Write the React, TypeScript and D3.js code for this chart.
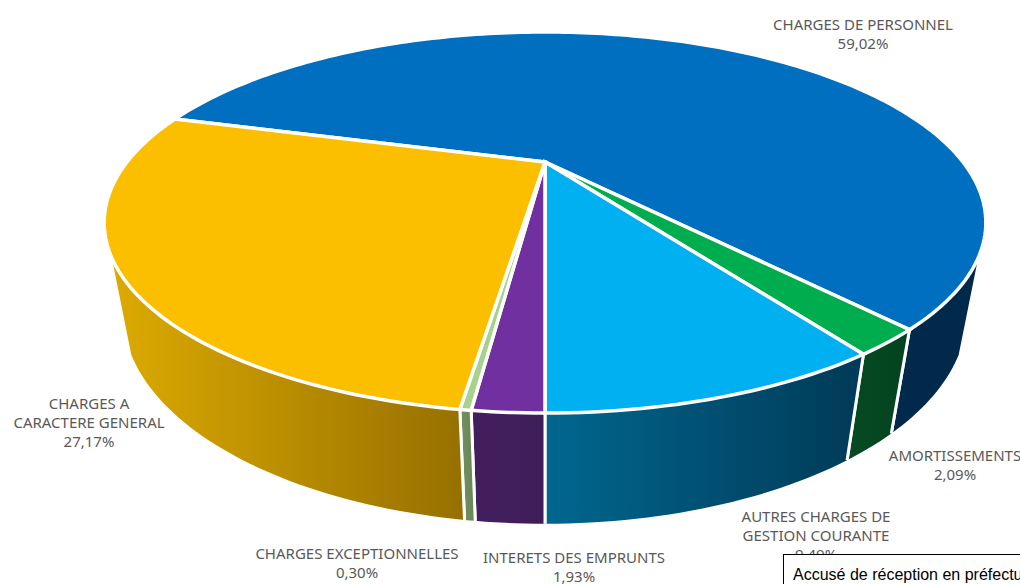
import React from "react";
import * as d3 from "d3";

const categories = [
  "CHARGES DE PERSONNEL",
  "AMORTISSEMENTS",
  "AUTRES CHARGES DE GESTION COURANTE",
  "INTERETS DES EMPRUNTS",
  "CHARGES EXCEPTIONNELLES",
  "CHARGES A CARACTERE GENERAL",
];
const values = [59.02, 2.09, 9.49, 1.93, 0.3, 27.17];
const valueLabels = ["59,02%", "2,09%", "9,49%", "1,93%", "0,30%", "27,17%"];
const topColors = ["#006fc0", "#00ad4e", "#00b0f0", "#7030a0", "#a9d18e", "#fbbf00"];
const wallFrom = ["#002a4c", "#054a22", "#00678f", "#441f60", "#72905f", "#dcaa00"];
const wallTo = ["#00284a", "#03431f", "#003a57", "#3e1d58", "#6a8558", "#967000"];
const labelLines = [
  ["CHARGES DE PERSONNEL", "59,02%"],
  ["AMORTISSEMENTS", "2,09%"],
  ["AUTRES CHARGES DE", "GESTION COURANTE", "9,49%"],
  ["INTERETS DES EMPRUNTS", "1,93%"],
  ["CHARGES EXCEPTIONNELLES", "0,30%"],
  ["CHARGES A", "CARACTERE GENERAL", "27,17%"],
];
const labelAnchors: [number, number][] = [
  [863, 30],
  [955, 461],
  [816, 522],
  [574, 563],
  [357, 559],
  [89, 409],
];

const W = 1020;
const H = 584;
const apexX = 545;
const apexY = 162;
const A = 418;
const B = 171.3;
const K = 0.3177;
const DEPTH_Y = 90;
const DEPTH_W = 0.04;
const START = (-74.16 * Math.PI) / 180;
const WALL_FROM = (118.4 * Math.PI) / 180;
const WALL_TO = (241.6 * Math.PI) / 180;

function project(angle: number, z: number): [number, number] {
  const x = Math.sin(angle);
  const y = -Math.cos(angle);
  const w = 1 - K * y + DEPTH_W * z;
  return [apexX + (A * x) / w, apexY + (B * y + DEPTH_Y * z) / w];
}

const pie = d3
  .pie<number>()
  .sort(null)
  .startAngle(START)
  .endAngle(START + 2 * Math.PI);

function ringPoints(a0: number, a1: number, z: number): [number, number][] {
  const n = Math.max(2, Math.ceil(Math.abs(a1 - a0) / 0.02));
  return d3.range(n + 1).map((i) => project(a0 + ((a1 - a0) * i) / n, z));
}

const line = d3.line();

export default function App() {
  const arcs = pie(values);
  const spans = arcs.map((a) => {
    const a0 = Math.max(a.startAngle, WALL_FROM);
    const a1 = Math.min(a.endAngle, WALL_TO);
    return [a0, a1] as [number, number];
  });
  return (
    <svg
      width={W}
      height={H}
      viewBox={`0 0 ${W} ${H}`}
      style={{ position: "fixed", left: 0, top: 0, background: "#fff", display: "block" }}
    >
      <defs>
        {spans.map(([a0, a1], i) => {
          const xs = [...ringPoints(a0, a1, 0), ...ringPoints(a0, a1, 1)].map((p) => p[0]);
          return (
            <linearGradient
              key={i}
              id={`wall${i}`}
              gradientUnits="userSpaceOnUse"
              x1={d3.min(xs)}
              x2={d3.max(xs)}
              y1={0}
              y2={0}
            >
              <stop offset="0" stopColor={wallFrom[i]} />
              <stop offset="1" stopColor={wallTo[i]} />
            </linearGradient>
          );
        })}
      </defs>
      {spans.map(([a0, a1], i) => {
        const top = ringPoints(a0, a1, 0);
        const bottom = ringPoints(a0, a1, 1).reverse();
        return (
          <g key={categories[i] + "w"}>
            <path d={line([...top, ...bottom])! + "Z"} fill={`url(#wall${i})`} />
            {a0 > WALL_FROM && (
              <path d={line([project(a0, 0), project(a0, 1)])!} stroke="#fff" strokeWidth={3} />
            )}
            {a1 < WALL_TO && (
              <path d={line([project(a1, 0), project(a1, 1)])!} stroke="#fff" strokeWidth={3} />
            )}
          </g>
        );
      })}
      {arcs.map((a, i) => {
        const rim = ringPoints(a.startAngle, a.endAngle, 0);
        return (
          <path
            key={categories[i]}
            d={line([[apexX, apexY], ...rim])! + "Z"}
            fill={topColors[i]}
            stroke="#fff"
            strokeWidth={3.5}
            strokeLinejoin="miter"
          />
        );
      })}
      <g
        fontFamily="'Noto Sans', sans-serif"
        fontSize={15}
        fill="#595959"
        textAnchor="middle"
      >
        {labelLines.map((ls, i) => (
          <text key={valueLabels[i]} x={labelAnchors[i][0]} y={labelAnchors[i][1]}>
            {ls.map((t, j) => (
              <tspan key={j} x={labelAnchors[i][0]} dy={j === 0 ? 0 : 19}>
                {t}
              </tspan>
            ))}
          </text>
        ))}
      </g>
      <rect x={783.5} y={554.5} width={260} height={50} fill="#fff" stroke="#000" strokeWidth={1} />
      <text x={793} y={580} fontFamily="'Liberation Sans', Arial, sans-serif" fontSize={16} fill="#000">
        Accusé de réception en préfecture
      </text>
    </svg>
  );
}
